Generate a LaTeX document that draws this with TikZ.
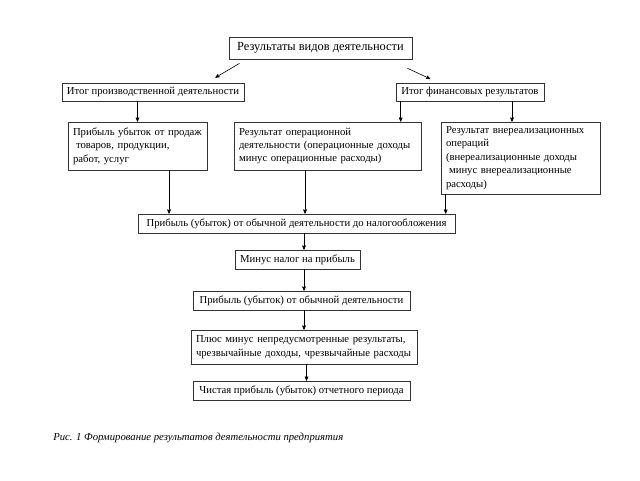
\documentclass[tikz,border=0pt]{standalone}
\usepackage{fontspec}
\setmainfont{Liberation Serif}
\usetikzlibrary{arrows}

\tikzset{
  box/.style={draw=black!80,line width=0.6pt,fill=white,inner xsep=5pt,inner ysep=2pt,
    font=\fontsize{10.7}{13.4}\selectfont},
  tbox/.style={box,align=left,text width=#1},
}

\begin{document}
\begin{tikzpicture}[x=1pt,y=-1pt,>=stealth',line width=0.6pt]
  \useasboundingbox[fill=white] (0,0) rectangle (640,480);
  \node[box,font=\fontsize{12.4}{14}\selectfont,minimum width=183,minimum height=22] (res) at (320.5,48) {Результаты видов деятельности};
  \node[box,minimum width=180,minimum height=18] (prod) at (153,92) {Итог производственной деятельности};
  \node[box,minimum width=148,minimum height=18] (fin) at (470,92) {Итог финансовых результатов};
  \node[tbox=129pt,minimum height=48] (sales) at (137.5,146) {Прибыль убыток от продаж\\\hspace*{3pt}товаров, продукции,\\работ, услуг};
  \node[tbox=177pt,minimum height=48] (oper) at (327.5,146) {Результат операционной\\деятельности (операционные доходы\\минус операционные расходы)};
  \node[tbox=149pt,minimum height=72] (nonop) at (520.5,158) {Результат внереализационных\\операций\\(внереализационные доходы\\\hspace*{3pt}минус внереализационные\\расходы)};
  \node[box,minimum width=317,minimum height=19] (pretax) at (296.5,223.5) {Прибыль (убыток) от обычной деятельности до налогообложения};
  \node[box,minimum width=125,minimum height=19] (tax) at (297.5,259.5) {Минус налог на прибыль};
  \node[box,minimum width=217,minimum height=19] (ordin) at (301.5,300.5) {Прибыль (убыток) от обычной деятельности};
  \node[tbox=216pt,minimum height=34] (extra) at (304,347) {Плюс минус непредусмотренные результаты,\\чрезвычайные доходы, чрезвычайные расходы};
  \node[box,minimum width=217,minimum height=19] (net) at (301.5,390.5) {Чистая прибыль (убыток) отчетного периода};
  \node[anchor=base west,inner sep=0pt,font=\fontsize{10.7}{12}\selectfont\itshape] (cap) at (53,440) {Рис. 1 Формирование результатов деятельности предприятия};
  % top diagonal arrows
  \draw[->,shorten <=8pt,shorten >=10pt] ([xshift=17.7pt]res.south west) -- ([xshift=53.7pt]prod.north);
  \draw[->,shorten <=21pt,shorten >=9pt] ([xshift=-24pt]res.south east) -- ([xshift=-31.6pt]fin.north);
  % second level
  \draw[->] (prod.south -| sales.north) -- (sales.north);
  \draw[->] ([xshift=5pt]fin.south west) -- ([xshift=5pt]fin.south west |- oper.north);
  \draw[->] ([xshift=42pt]fin.south) -- ([xshift=42pt]fin.south |- nonop.north);
  % into pretax
  \draw[->] ([xshift=31.5pt]sales.south) -- ([xshift=31.5pt]sales.south |- pretax.north);
  \draw[->] ([xshift=-22.5pt]oper.south) -- ([xshift=-22.5pt]oper.south |- pretax.north);
  \draw[->] ([xshift=5pt]nonop.south west) -- ([xshift=5pt]nonop.south west |- pretax.north);
  % main chain
  \draw[->] ([xshift=7.5pt]pretax.south) -- ([xshift=7.5pt]pretax.south |- tax.north);
  \draw[->] ([xshift=6.5pt]tax.south) -- ([xshift=6.5pt]tax.south |- ordin.north);
  \draw[->] ([xshift=2.5pt]ordin.south) -- ([xshift=2.5pt]ordin.south |- extra.north);
  \draw[->] ([xshift=2.5pt]extra.south) -- ([xshift=2.5pt]extra.south |- net.north);
\end{tikzpicture}
\end{document}
